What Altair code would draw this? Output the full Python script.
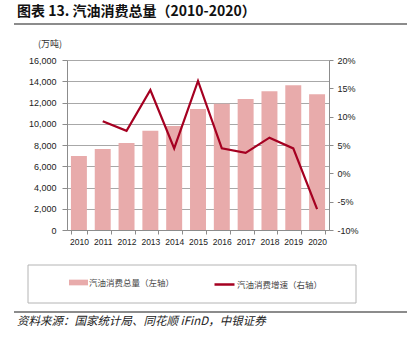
import altair as alt
import pandas as pd

years = ["2010", "2011", "2012", "2013", "2014", "2015", "2016", "2017", "2018", "2019", "2020"]
consumption = [6960, 7620, 8190, 9350, 9790, 11390, 11890, 12330, 13050, 13620, 12770]
growth = [None, 9.2, 7.5, 14.7, 4.4, 16.3, 4.4, 3.6, 6.3, 4.4, -6.3]

bar_label = "汽油消费总量（左轴）"
line_label = "汽油消费增速（右轴）"
title_text = "图表 13. 汽油消费总量（2010-2020）"
unit_text = "(万吨)"
source_text = "资料来源：国家统计局、同花顺 iFinD，中银证券"

left_ticks = [0, 2000, 4000, 6000, 8000, 10000, 12000, 14000, 16000]
right_ticks = [-10, -5, 0, 5, 10, 15, 20]

NUM_FONT = "'Liberation Sans', Arial, sans-serif"
CJK_FONT = "'Noto Sans CJK SC', sans-serif"
BAR_COLOR = "#E8ABAB"
LINE_COLOR = "#A50021"
AXIS_GRAY = "#8c8c8c"

df = pd.DataFrame({
    "year": years,
    "consumption": consumption,
    "growth": growth,
    "bar_series": [bar_label] * len(years),
    "line_series": [line_label] * len(years),
})

x_enc = alt.X(
    "year:N",
    sort=years,
    scale=alt.Scale(paddingInner=0.33, paddingOuter=0.165),
    axis=alt.Axis(
        title=None, labelAngle=0, tickBand="extent", tickSize=4, labelPadding=3,
        domainColor=AXIS_GRAY, tickColor=AXIS_GRAY, labelFont=NUM_FONT,
        labelFontSize=8.5, labelColor="#222",
    ),
)

bars = alt.Chart(df).mark_bar().encode(
    x=x_enc,
    y=alt.Y(
        "consumption:Q",
        scale=alt.Scale(domain=[0, 16000], nice=False),
        axis=alt.Axis(
            title=None, values=left_ticks, format=",.0f", orient="left", grid=True,
            gridColor="#a8a8a8", gridWidth=1, tickSize=5, labelPadding=6,
            domainColor=AXIS_GRAY, tickColor=AXIS_GRAY, labelFont=NUM_FONT,
            labelFontSize=9, labelColor="#222",
        ),
    ),
    fill=alt.Fill(
        "bar_series:N",
        scale=alt.Scale(domain=[bar_label], range=[BAR_COLOR]),
        legend=alt.Legend(
            orient="none", legendX=2, legendY=213, direction="horizontal", title=None,
            symbolType="M-1,-0.3H1V0.3H-1Z", symbolSize=361, symbolStrokeWidth=0,
            labelFont=CJK_FONT, labelFontSize=8.5, labelColor="#444", labelOffset=1, padding=0,
        ),
    ),
)

line = alt.Chart(df).transform_filter("isValid(datum.growth)").mark_line(
    strokeWidth=2.2, color=LINE_COLOR
).encode(
    x=alt.X("year:N", sort=years),
    y=alt.Y(
        "growth:Q",
        scale=alt.Scale(domain=[-10, 20], nice=False),
        axis=alt.Axis(
            title=None, values=right_ticks, orient="right", grid=False,
            labelExpr="datum.value + '%'", tickSize=4, labelPadding=4,
            domainColor=AXIS_GRAY, tickColor=AXIS_GRAY, labelFont=NUM_FONT,
            labelFontSize=9, labelColor="#222",
        ),
    ),
    stroke=alt.Stroke(
        "line_series:N",
        scale=alt.Scale(domain=[line_label], range=[LINE_COLOR]),
        legend=alt.Legend(
            orient="none", legendX=146, legendY=213, direction="horizontal", title=None,
            symbolType="stroke", symbolSize=400, symbolStrokeWidth=2.5,
            labelFont=CJK_FONT, labelFontSize=8.5, labelColor="#444", labelOffset=1, padding=0,
        ),
    ),
)

one = pd.DataFrame({"k": [0]})

legend_box = alt.Chart(one).mark_rect(fill="white", stroke="#b4b4b4", strokeWidth=1).encode(
    x=alt.value(-39), x2=alt.value(289), y=alt.value(205), y2=alt.value(243)
)
title = alt.Chart(one).mark_text(
    text=title_text, font=CJK_FONT, fontSize=14, fontWeight="bold", align="left",
    baseline="middle", color="#111"
).encode(x=alt.value(-50), y=alt.value(-48))
title_rule = alt.Chart(one).mark_rule(color="#666", strokeWidth=1.5).encode(
    x=alt.value(-53), x2=alt.value(345), y=alt.value(-36)
)
unit = alt.Chart(one).mark_text(
    text=unit_text, font=CJK_FONT, fontSize=9, align="center", baseline="middle", color="#333"
).encode(x=alt.value(-17), y=alt.value(-16))
bottom_rule = alt.Chart(one).mark_rule(color="#666", strokeWidth=1.5).encode(
    x=alt.value(-53), x2=alt.value(345), y=alt.value(252)
)
source = alt.Chart(one).mark_text(
    text=source_text, font=CJK_FONT, fontSize=11.5, fontStyle="italic", align="left",
    baseline="middle", color="#222"
).encode(x=alt.value(-50), y=alt.value(262))

chart = alt.layer(
    legend_box, bars, line, title, title_rule, unit, bottom_rule, source
).resolve_scale(y="independent").properties(
    width=262, height=170,
    autosize=alt.AutoSizeParams(type="none"),
    padding={"left": 67, "top": 60, "right": 78, "bottom": 113},
).configure_view(stroke=None).configure(background="white")

chart.save("out.html", embed_options={"renderer": "svg", "actions": False})
